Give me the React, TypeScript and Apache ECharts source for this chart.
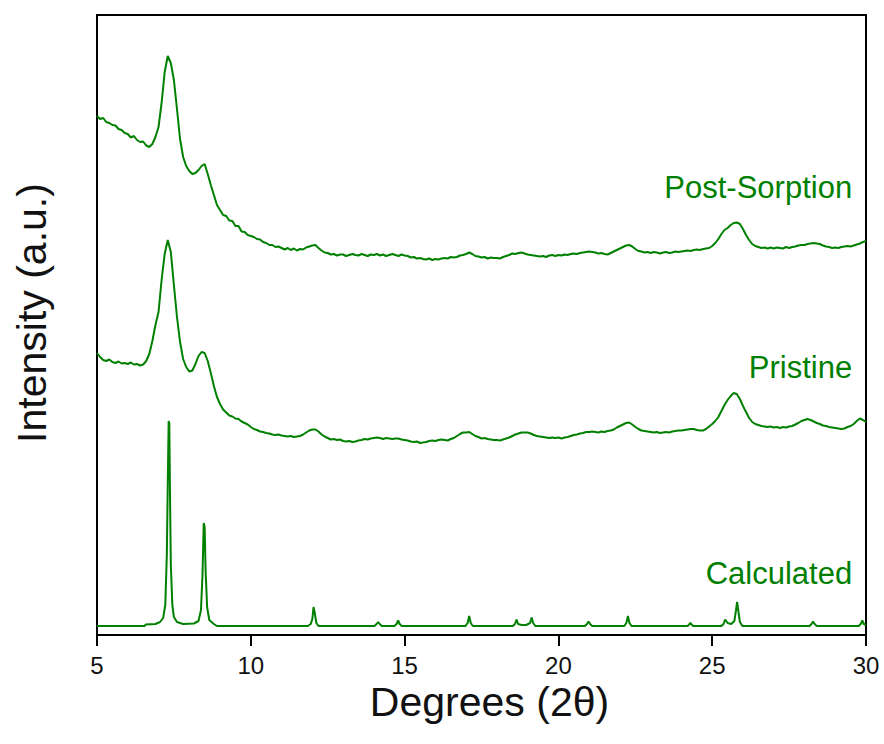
import React, { useEffect, useRef } from "react";
import * as echarts from "echarts";

// 2θ sampling of the measured patterns (degrees)
const twoThetaStart = 5;
const twoThetaStep = 0.1;

// Intensity (a.u.) of the measured patterns, one value per 0.1° from 5° to 30°
const postSorption = [
  519, 516, 517, 513, 512, 510, 509.5, 506, 505, 502,
  501, 497.5, 499, 495, 493, 493.5, 489.5, 488, 491, 498,
  508, 532, 563, 579, 572, 555, 526, 496, 478, 469,
  464, 461, 462, 465, 469, 471, 461, 450, 440, 430,
  425, 420, 419, 414.5, 414, 409, 409, 403.5, 403, 400,
  399, 398, 396, 395.5, 393, 392, 390, 390, 388, 388.5,
  387, 385.5, 387, 385, 386.5, 384.5, 386, 385.5, 387.5, 388.5,
  389.5, 390, 387, 384.5, 382.5, 382, 380.5, 381, 379.5, 380.5,
  380.5, 379, 380, 381, 380, 379.5, 381, 380, 379, 380.5,
  380, 381, 379.5, 380.5, 379, 380, 381, 380, 379, 380.5,
  379.5, 379, 377.5, 378, 376.5, 377, 376, 375.5, 376.5, 375,
  376, 375.5, 376.5, 377, 376.5, 378, 377.5, 378, 379.5, 380,
  381, 382.5, 381, 379, 378.5, 377.5, 378, 376.5, 377.5, 377,
  377, 376.5, 378, 379, 380, 381.5, 381, 382, 382.5, 381.5,
  380.5, 380, 379.5, 379, 378.5, 379, 378, 379.5, 380, 379,
  380, 379.5, 380.5, 380, 381, 381.5, 381, 382, 382.5, 383,
  383.5, 383, 382.5, 381.5, 382, 381, 380.5, 382, 383.5, 385,
  386.5, 388, 389.5, 390, 388.5, 386, 384, 383.5, 382.5, 383,
  382, 383, 382.5, 381.5, 382.5, 383, 382, 382.5, 383.5, 383,
  383.5, 384, 384.5, 384, 385, 385.5, 385, 386, 386.5, 387,
  389, 392, 396, 401, 405, 407, 410, 412, 412.5, 411,
  406, 400, 395, 391, 389, 388, 387, 387.5, 386.5, 387.5,
  386.5, 387.5, 387, 386.5, 388, 387, 388, 388.5, 389.5, 390,
  390, 391, 391.5, 392, 391.5, 391, 389.5, 388.5, 388, 387,
  387.5, 387, 388, 388.5, 389, 388.5, 389.5, 390.5, 391.5, 393,
  394,
];

const pristine = [
  282, 278, 275, 274, 275.5, 273, 272, 273.5, 271.5, 272,
  271, 272.5, 270.5, 271, 269.5, 270.5, 274, 281, 294, 310,
  323, 355, 381, 395, 383, 350, 318, 293, 276, 268,
  263.5, 264.5, 271, 279, 283, 282, 274, 262, 249, 238,
  231, 225.5, 222.5, 219.5, 218.5, 216.5, 216, 213.5, 212, 210.5,
  208, 206, 205, 203.5, 203, 202, 201.5, 200.5, 200, 200.5,
  199.5, 199, 198.5, 199, 198, 198.5, 199, 200.5, 202.5, 204.5,
  205.5, 205.5, 203.5, 200.5, 198.5, 197, 195.5, 196, 195, 195.5,
  194, 193.5, 194, 193, 193.5, 194.5, 195, 196, 195.5, 196.5,
  197, 197.5, 197, 196, 197, 196.5, 196, 196.5, 196.5, 195.5,
  195, 194.5, 193.5, 193, 193.5, 192, 192.5, 193, 194, 194.5,
  194, 195, 195.5, 195, 194.5, 196, 197, 199, 201, 202.5,
  202.5, 203, 201, 199, 198, 196.5, 197, 196, 195.5, 195,
  195, 194.5, 195.5, 196.5, 197.5, 199, 200.5, 201.5, 202.5, 202.5,
  202.5, 201.5, 200, 199, 198.5, 198, 197.5, 197, 197.5, 197,
  197.5, 196.5, 197.5, 198, 199, 200, 200.5, 201.5, 202, 203,
  203, 203.5, 203, 202.5, 203.5, 203, 204, 204.5, 205.5, 207.5,
  209, 210.5, 212, 212.5, 210.5, 208, 206, 204.5, 204, 203.5,
  203, 202.5, 203, 202, 202.5, 203, 202.5, 203.5, 204, 204.5,
  204.5, 205, 205.5, 206, 206, 205, 204.5, 204.5, 206, 208.5,
  211, 214, 218, 224, 230, 235, 239, 242, 241, 236,
  229, 223, 217, 213, 211, 210, 209, 208.5, 208, 208.5,
  207.5, 208, 207, 208, 207.5, 208.5, 209, 210.5, 212, 214,
  215, 216, 215, 213.5, 212, 211, 209.5, 209, 208, 207.5,
  207, 206.5, 206, 206.5, 208, 209, 211, 214, 216.5, 215,
  213,
];

// Calculated pattern: [2θ, intensity]
const calculated: [number, number][] = [
  [5, 9], [6.55, 9], [6.58, 10.5], [6.9, 11], [7.05, 13], [7.15, 17], [7.22, 30],
  [7.27, 80], [7.3, 150], [7.33, 214], [7.35, 212], [7.37, 150], [7.4, 70],
  [7.45, 30], [7.5, 18], [7.6, 13], [7.8, 11], [8.15, 11.5], [8.3, 14], [8.38, 25],
  [8.43, 60], [8.47, 112], [8.5, 108], [8.53, 65], [8.58, 28], [8.65, 15], [8.8, 11],
  [8.9, 9], [11.85, 9], [11.95, 11], [12.0, 16], [12.04, 28], [12.08, 22], [12.13, 12],
  [12.2, 9],
  [14.02, 9], [14.09, 11], [14.14, 13], [14.19, 11], [14.26, 9],
  [14.67, 9], [14.74, 11], [14.79, 14.5], [14.84, 11], [14.91, 9],
  [16.98, 9], [17.05, 12], [17.1, 19], [17.15, 12], [17.22, 9],
  [18.52, 9], [18.59, 11], [18.64, 15.5], [18.69, 11], [18.8, 10],
  [18.95, 10], [19.08, 12], [19.13, 17.5], [19.18, 12], [19.25, 9],
  [20.86, 9], [20.93, 11], [20.98, 13.5], [21.03, 11], [21.1, 9],
  [22.14, 9], [22.21, 12], [22.26, 19], [22.31, 12], [22.38, 9],
  [24.2, 9], [24.25, 10.5], [24.29, 12], [24.33, 10.5], [24.38, 9],
  [25.3, 9], [25.37, 11], [25.42, 15.5], [25.5, 12], [25.62, 11], [25.72, 14],
  [25.77, 24], [25.81, 33], [25.85, 24], [25.9, 13], [25.98, 9],
  [28.16, 9], [28.23, 11], [28.28, 13.5], [28.33, 11], [28.4, 9],
  [29.76, 9], [29.83, 11], [29.88, 14.5], [29.93, 11], [30, 10],
];

const xTicks = [5, 10, 15, 20, 25, 30];
const seriesNames = ["Post-Sorption", "Pristine", "Calculated"];
const labelLevels = [448, 268, 62]; // intensity level where each series label sits

const GREEN = "#008000";
const FONT = "'Liberation Sans', Arial, Helvetica, sans-serif";

export default function App() {
  const ref = useRef<HTMLDivElement>(null);

  useEffect(() => {
    if (!ref.current) return;
    const chart = echarts.init(ref.current, null, { renderer: "svg" });
    const toPairs = (vals: number[]) =>
      vals.map((v, i) => [+(twoThetaStart + i * twoThetaStep).toFixed(2), v]);

    const lineSeries = (name: string, data: number[][], labelLevel: number) => ({
      name,
      type: "line",
      data,
      symbol: "none",
      smooth: false,
      lineStyle: { color: GREEN, width: 2 },
      markPoint: {
        symbol: "circle",
        symbolSize: 0,
        silent: true,
        data: [{ coord: [29.55, labelLevel], value: name }],
        label: {
          show: true,
          formatter: name,
          position: "left",
          distance: 0,
          color: GREEN,
          fontSize: 31,
          fontFamily: FONT,
        },
      },
    });

    chart.setOption({
      animation: false,
      backgroundColor: "#ffffff",
      grid: {
        left: 97,
        right: 18,
        top: 15,
        bottom: 109,
        show: true,
        borderColor: "#000",
        borderWidth: 2,
        containLabel: false,
      },
      xAxis: {
        type: "value",
        min: xTicks[0],
        max: xTicks[xTicks.length - 1],
        interval: 5,
        name: "Degrees (2θ)",
        nameLocation: "middle",
        nameGap: 26,
        nameTextStyle: {
          fontSize: 41,
          fontFamily: FONT,
          color: "#111",
          padding: [0, 0, 0, 16],
        },
        axisLine: { show: true, onZero: false, lineStyle: { color: "#000", width: 2 } },
        axisTick: { show: true, inside: false, length: 11, lineStyle: { color: "#000", width: 2 } },
        axisLabel: {
          fontSize: 24,
          margin: 18,
          color: "#111",
          fontFamily: FONT,
          showMinLabel: true,
          showMaxLabel: true,
        },
        splitLine: { show: false },
      },
      yAxis: {
        type: "value",
        min: 0,
        max: 620,
        name: "Intensity (a.u.)",
        nameLocation: "middle",
        nameGap: 45,
        nameTextStyle: {
          fontSize: 41,
          fontFamily: FONT,
          color: "#111",
          padding: [0, 0, 0, 24],
        },
        axisLine: { show: true, lineStyle: { color: "#000", width: 2 } },
        axisTick: { show: false },
        axisLabel: { show: false },
        splitLine: { show: false },
      },
      series: [
        lineSeries(seriesNames[0], toPairs(postSorption), labelLevels[0]),
        lineSeries(seriesNames[1], toPairs(pristine), labelLevels[1]),
        lineSeries(seriesNames[2], calculated, labelLevels[2]),
      ],
    });

    return () => chart.dispose();
  }, []);

  return (
    <div
      ref={ref}
      style={{ position: "fixed", left: 0, top: 0, width: 884, height: 744, background: "#fff" }}
    />
  );
}
